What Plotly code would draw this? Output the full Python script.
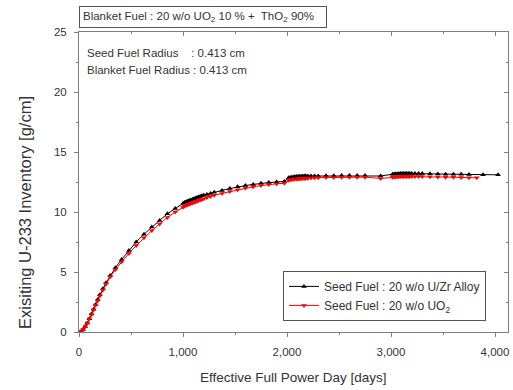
import plotly.graph_objects as go

# ---- data ----
alloy_days = [0, 20, 40, 60, 80, 100, 120, 140, 160, 180, 200, 230, 260, 300, 350, 410, 480, 550, 625, 700, 775, 850, 925, 1000,
              1015, 1030, 1045, 1060, 1075, 1090, 1105, 1120, 1135, 1150, 1165, 1180, 1200, 1230, 1265, 1300,
              1375, 1450, 1525, 1600, 1675, 1750, 1825, 1900, 1975,
              2015, 2030, 2045, 2060, 2075, 2090, 2105, 2120, 2135, 2150, 2165, 2180, 2200, 2230, 2265, 2300,
              2375, 2450, 2525, 2600, 2675, 2750, 2900,
              3015, 3030, 3045, 3060, 3075, 3090, 3105, 3120, 3135, 3150, 3165, 3180, 3200, 3230, 3265, 3300,
              3375, 3450, 3525, 3600, 3675, 3750, 3885, 4030]
alloy_u233 = [0, 0.05, 0.2, 0.45, 0.75, 1.1, 1.5, 1.9, 2.3, 2.7, 3.1, 3.6, 4.1, 4.7, 5.35, 6.05, 6.8, 7.5, 8.15, 8.75, 9.3, 9.85, 10.3, 10.7,
              10.8, 10.85, 10.9, 10.95, 11.0, 11.05, 11.1, 11.15, 11.2, 11.25, 11.3, 11.35, 11.4, 11.45, 11.55, 11.65,
              11.8, 11.95, 12.1, 12.2, 12.3, 12.4, 12.45, 12.5, 12.55,
              12.85, 12.88, 12.9, 12.92, 12.94, 12.95, 12.96, 12.97, 12.98, 12.98, 12.99, 13.0, 13.0, 13.0, 13.0, 13.0,
              13.02, 13.03, 13.05, 13.05, 13.05, 13.05, 13.0,
              13.15, 13.16, 13.17, 13.18, 13.19, 13.2, 13.2, 13.2, 13.2, 13.2, 13.2, 13.2, 13.2, 13.2, 13.2, 13.2,
              13.18, 13.17, 13.15, 13.15, 13.14, 13.13, 13.1, 13.1]

uo2_days = [0, 20, 40, 60, 80, 100, 120, 140, 160, 180, 200, 230, 260, 300, 350, 410, 480, 550, 625, 700, 775, 850, 925, 1000,
            1015, 1030, 1045, 1060, 1075, 1090, 1105, 1120, 1135, 1150, 1165, 1180, 1200, 1230, 1265, 1300,
            1375, 1450, 1525, 1600, 1675, 1750, 1825, 1900, 1975,
            2015, 2030, 2045, 2060, 2075, 2090, 2105, 2120, 2135, 2150, 2165, 2180, 2200, 2230, 2265, 2300,
            2375, 2450, 2525, 2600, 2675, 2750, 2900,
            3015, 3030, 3045, 3060, 3075, 3090, 3105, 3120, 3135, 3150, 3165, 3180, 3200, 3230, 3265, 3300,
            3375, 3450, 3525, 3600, 3675, 3750, 3825]
uo2_u233 = [0, 0.05, 0.2, 0.45, 0.75, 1.1, 1.45, 1.85, 2.25, 2.6, 3.0, 3.5, 4.0, 4.6, 5.2, 5.85, 6.55, 7.2, 7.85, 8.45, 9.0, 9.55, 10.0, 10.4,
            10.5, 10.55, 10.6, 10.65, 10.7, 10.75, 10.8, 10.85, 10.9, 10.95, 11.0, 11.05, 11.1, 11.2, 11.3, 11.4,
            11.55, 11.7, 11.85, 12.0, 12.1, 12.2, 12.3, 12.35, 12.4,
            12.65, 12.68, 12.7, 12.72, 12.74, 12.75, 12.76, 12.77, 12.78, 12.79, 12.8, 12.8, 12.82, 12.84, 12.85, 12.86,
            12.87, 12.88, 12.9, 12.9, 12.9, 12.9, 12.8,
            12.9, 12.91, 12.92, 12.93, 12.94, 12.95, 12.95, 12.95, 12.95, 12.95, 12.95, 12.95, 12.95, 12.95, 12.95, 12.95,
            12.93, 12.92, 12.9, 12.9, 12.88, 12.86, 12.85]

x_ticks = [0, 1000, 2000, 3000, 4000]
x_tick_labels = ["0", "1,000", "2,000", "3,000", "4,000"]
y_ticks = [0, 5, 10, 15, 20, 25]

series_names = ["Seed Fuel : 20 w/o U/Zr Alloy", "Seed Fuel : 20 w/o UO<sub>2</sub>"]
title_box = "Blanket Fuel : 20 w/o UO<sub>2</sub> 10 % +  ThO<sub>2</sub> 90%"
note_lines = ["Seed Fuel Radius\u00a0\u00a0\u00a0\u00a0: 0.413 cm", "Blanket Fuel Radius : 0.413 cm"]
x_title = "Effective Full Power Day [days]"
y_title = "Exisiting U-233 Inventory [g/cm]"

FONT = "Liberation Sans, Arial, sans-serif"
AX = "#7f7f7f"
TXT = "#333"

fig = go.Figure()
fig.add_trace(go.Scatter(x=alloy_days, y=alloy_u233, mode="lines+markers", name=series_names[0],
                         line=dict(color="black", width=1),
                         marker=dict(symbol="triangle-up", size=5, color="black")))
fig.add_trace(go.Scatter(x=uo2_days, y=uo2_u233, mode="lines+markers", name=series_names[1],
                         line=dict(color="red", width=1),
                         marker=dict(symbol="triangle-down", size=5, color="red")))

XR = [0, 4125]
YR = [0, 25]

fig.update_layout(
    width=513, height=390,
    margin=dict(l=79, r=5, t=32, b=58),
    paper_bgcolor="white", plot_bgcolor="white",
    font=dict(family=FONT, size=11, color=TXT),
    showlegend=True,
    legend=dict(x=0.4755, y=0.037, xanchor="left", yanchor="bottom",
                bgcolor="white", bordercolor="#555", borderwidth=1,
                font=dict(size=12, color=TXT), tracegroupgap=0,
                itemwidth=30),
    xaxis=dict(range=XR, tickvals=x_ticks, ticktext=x_tick_labels,
               showgrid=False, zeroline=False, showline=True, linecolor=AX, linewidth=1,
               ticks="outside", ticklen=4, tickcolor=AX, ticklabelstandoff=5,
               minor=dict(dtick=500, tick0=0, ticks="outside", ticklen=2, tickcolor=AX),
               tickfont=dict(size=11.5, color=TXT)),
    yaxis=dict(range=YR, tickvals=y_ticks,
               showgrid=False, zeroline=False, showline=True, linecolor=AX, linewidth=1,
               ticks="outside", ticklen=4, tickcolor=AX, ticklabelstandoff=5,
               minor=dict(dtick=2.5, tick0=0, ticks="outside", ticklen=2, tickcolor=AX),
               tickfont=dict(size=11.5, color=TXT)),
    xaxis2=dict(range=XR, overlaying="x", side="top", tickvals=x_ticks, showticklabels=False,
                showgrid=False, zeroline=False, showline=True, linecolor=AX, linewidth=1,
                ticks="inside", ticklen=4, tickcolor=AX,
                minor=dict(dtick=500, tick0=0, ticks="inside", ticklen=2, tickcolor=AX)),
    yaxis2=dict(range=YR, overlaying="y", side="right", tickvals=y_ticks, showticklabels=False,
                showgrid=False, zeroline=False, showline=True, linecolor=AX, linewidth=1,
                ticks="inside", ticklen=4, tickcolor=AX,
                minor=dict(dtick=2.5, tick0=0, ticks="inside", ticklen=2, tickcolor=AX)),
)

# invisible trace to activate the mirrored frame axes
fig.add_trace(go.Scatter(x=[None], y=[None], xaxis="x2", yaxis="y2", showlegend=False, hoverinfo="skip"))

# axis titles
fig.add_annotation(xref="paper", yref="paper", x=0.5, y=-0.153, xanchor="center", yanchor="middle",
                   text=x_title, showarrow=False, font=dict(size=13.5, color=TXT))
fig.add_annotation(xref="paper", yref="paper", x=-0.126, y=0.40, xanchor="center", yanchor="middle",
                   text=y_title, textangle=-90, showarrow=False, font=dict(size=16.5, color=TXT))

fig.add_annotation(xref="paper", yref="paper", x=0.0, y=1.05, xanchor="left", yanchor="middle",
                   text=title_box, showarrow=False, align="left",
                   font=dict(size=11.5, color=TXT), bordercolor="#555", borderwidth=1, borderpad=3,
                   bgcolor="white", width=240)
for i, line in enumerate(note_lines):
    fig.add_annotation(xref="paper", yref="paper", x=0.014, y=0.93 - i * 0.055, xanchor="left", yanchor="middle",
                       text=line, showarrow=False, align="left", font=dict(size=11.5, color=TXT))

fig.write_html("out.html")
